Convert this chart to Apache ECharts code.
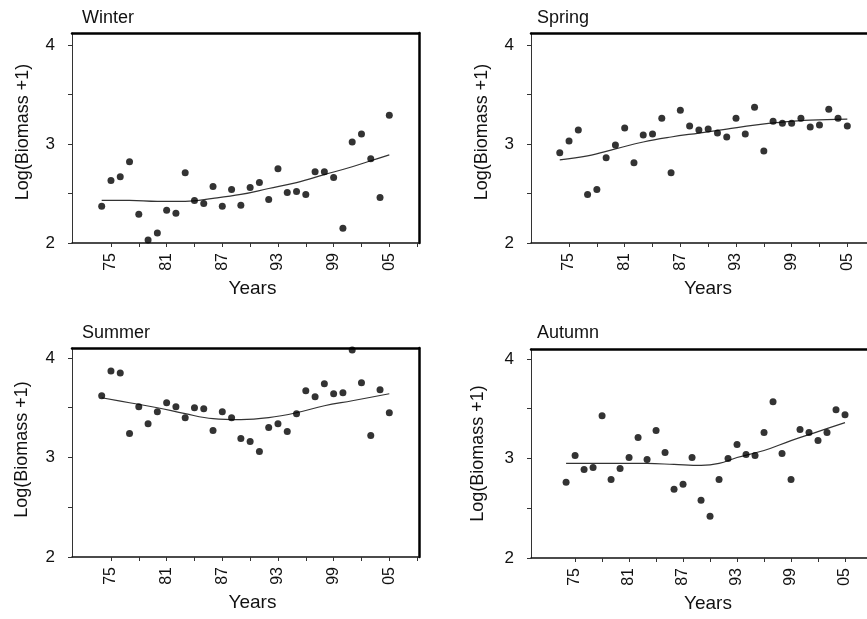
<!DOCTYPE html>
<html>
<head>
<meta charset="utf-8">
<title>Seasonal biomass</title>
<script src="https://cdn.jsdelivr.net/npm/echarts@6/dist/echarts.min.js"></script>
<style>
  html, body { margin: 0; padding: 0; background: #fff; }
  #chart { width: 867px; height: 619px; }
</style>
</head>
<body>
<div id="chart"></div>
<script>
// observed years
var years = [1974, 1975, 1976, 1977, 1978, 1979, 1980, 1981, 1982, 1983, 1984,
  1985, 1986, 1987, 1988, 1989, 1990, 1991, 1992, 1993, 1994, 1995, 1996,
  1997, 1998, 1999, 2000, 2001, 2002, 2003, 2004, 2005];

var winter = [2.37, 2.63, 2.67, 2.82, 2.29, 2.03, 2.10, 2.33, 2.30, 2.71, 2.43,
  2.40, 2.57, 2.37, 2.54, 2.38, 2.56, 2.61, 2.44, 2.75, 2.51, 2.52, 2.49,
  2.72, 2.72, 2.66, 2.15, 3.02, 3.10, 2.85, 2.46, 3.29];
var spring = [2.91, 3.03, 3.14, 2.49, 2.54, 2.86, 2.99, 3.16, 2.81, 3.09, 3.10,
  3.26, 2.71, 3.34, 3.18, 3.14, 3.15, 3.11, 3.07, 3.26, 3.10, 3.37, 2.93,
  3.23, 3.21, 3.21, 3.26, 3.17, 3.19, 3.35, 3.26, 3.18];
var summer = [3.62, 3.87, 3.85, 3.24, 3.51, 3.34, 3.46, 3.55, 3.51, 3.40, 3.50,
  3.49, 3.27, 3.46, 3.40, 3.19, 3.16, 3.06, 3.30, 3.34, 3.26, 3.44, 3.67,
  3.61, 3.74, 3.64, 3.65, 4.08, 3.75, 3.22, 3.68, 3.45];
var autumn = [2.76, 3.03, 2.89, 2.91, 3.43, 2.79, 2.90, 3.01, 3.21, 2.99, 3.28,
  3.06, 2.69, 2.74, 3.01, 2.58, 2.42, 2.79, 3.00, 3.14, 3.04, 3.03, 3.26,
  3.57, 3.05, 2.79, 3.29, 3.26, 3.18, 3.26, 3.49, 3.44];

// smoothed trend lines
var winterFitYears = [1974, 1977, 1980, 1983, 1986, 1989, 1992, 1995, 1998, 2001, 2003, 2005];
var winterFit = [2.43, 2.43, 2.42, 2.42, 2.45, 2.49, 2.55, 2.61, 2.69, 2.77, 2.83, 2.89];
var springFitYears = [1974, 1977, 1980, 1983, 1986, 1989, 1992, 1995, 1998, 2001, 2005];
var springFit = [2.84, 2.88, 2.95, 3.02, 3.07, 3.11, 3.15, 3.19, 3.22, 3.24, 3.25];
var summerFitYears = [1974, 1977, 1980, 1983, 1986, 1989, 1992, 1995, 1998, 2001, 2005];
var summerFit = [3.60, 3.55, 3.50, 3.44, 3.39, 3.38, 3.40, 3.45, 3.52, 3.57, 3.64];
var autumnFitYears = [1974, 1977, 1980, 1983, 1986, 1989, 1991, 1993, 1996, 1999, 2002, 2005];
var autumnFit = [2.95, 2.95, 2.95, 2.95, 2.94, 2.93, 2.95, 3.01, 3.08, 3.18, 3.27, 3.36];

var xLabelYears = [1975, 1981, 1987, 1993, 1999, 2005];
var xTickYears = [1975, 1978, 1981, 1984, 1987, 1990, 1993, 1996, 1999, 2002, 2005, 2008];
var yLabels = [2, 3, 4];
var yTicks = [2, 2.5, 3, 3.5, 4];

var font = 'Liberation Sans, Arial, sans-serif';

var panels = [
  { title: 'Winter', pts: winter, fitX: winterFitYears, fitY: winterFit,
    left: 72, top: 33, width: 347, height: 210, xMin: 1970.8, xMax: 2008.2, yMax: 4.12,
    titleLeft: 82, titleTop: 9, yGap: 40, yShift: 12, xShift: 14 },
  { title: 'Spring', pts: spring, fitX: springFitYears, fitY: springFit,
    left: 531, top: 33, width: 346, height: 210, xMin: 1970.9, xMax: 2008.2, yMax: 4.12,
    titleLeft: 537, titleTop: 9, yGap: 40, yShift: 12, xShift: 8 },
  { title: 'Summer', pts: summer, fitX: summerFitYears, fitY: summerFit,
    left: 72, top: 348, width: 347, height: 209, xMin: 1970.8, xMax: 2008.2, yMax: 4.10,
    titleLeft: 82, titleTop: 324, yGap: 41, yShift: 6, xShift: 14 },
  { title: 'Autumn', pts: autumn, fitX: autumnFitYears, fitY: autumnFit,
    left: 531, top: 349, width: 341, height: 209, xMin: 1970.1, xMax: 2008, yMax: 4.10,
    titleLeft: 537, titleTop: 324, yGap: 44, yShift: 0, xShift: 13 }
];

var option = {
  animation: false,
  backgroundColor: '#fff',
  title: [],
  grid: [],
  xAxis: [],
  yAxis: [],
  series: []
};

panels.forEach(function (p, i) {
  option.title.push({
    text: p.title, left: p.titleLeft, top: p.titleTop, padding: 0,
    textStyle: { fontFamily: font, fontSize: 18, fontWeight: 'normal', color: '#111' }
  });
  option.grid.push({
    left: p.left, top: p.top, width: p.width, height: p.height,
    containLabel: false, outerBoundsMode: 'none'
  });
  // bottom axis
  option.xAxis.push({
    type: 'value', gridIndex: i, min: p.xMin, max: p.xMax,
    name: 'Years', nameLocation: 'middle', nameGap: 36,
    nameTextStyle: { fontFamily: font, fontSize: 19, color: '#111', padding: [0, 0, 0, p.xShift] },
    axisLine: { show: true, onZero: false, lineStyle: { color: '#111', width: 1.5 } },
    axisTick: { show: true, length: 4, customValues: xTickYears, lineStyle: { color: '#333' } },
    axisLabel: {
      customValues: xLabelYears, rotate: 90, margin: 10,
      fontFamily: font, fontSize: 16, color: '#111',
      formatter: function (v) { return String(v).slice(2); }
    },
    splitLine: { show: false }
  });
  // top frame line
  option.xAxis.push({
    type: 'value', gridIndex: i, position: 'top', min: p.xMin, max: p.xMax,
    axisLine: { show: true, onZero: false, lineStyle: { color: '#000', width: 2.5 } },
    axisTick: { show: false }, axisLabel: { show: false }, splitLine: { show: false }
  });
  // left axis
  option.yAxis.push({
    type: 'value', gridIndex: i, min: 2, max: p.yMax,
    name: 'Log(Biomass +1)', nameLocation: 'middle', nameGap: p.yGap,
    nameTextStyle: { fontFamily: font, fontSize: 18, color: '#111', padding: [0, 0, 0, p.yShift] },
    axisLine: { show: true, onZero: false, lineStyle: { color: '#333', width: 1 } },
    axisTick: { show: true, length: 4, customValues: yTicks, lineStyle: { color: '#333' } },
    axisLabel: {
      customValues: yLabels, margin: 17, padding: [0, 0, 8, 0],
      fontFamily: font, fontSize: 17, color: '#111'
    },
    splitLine: { show: false }
  });
  // right frame line
  option.yAxis.push({
    type: 'value', gridIndex: i, position: 'right', min: 2, max: p.yMax,
    axisLine: { show: true, onZero: false, lineStyle: { color: '#000', width: 2.5 } },
    axisTick: { show: false }, axisLabel: { show: false }, splitLine: { show: false }
  });

  option.series.push({
    type: 'line', xAxisIndex: i * 2, yAxisIndex: i * 2,
    data: p.fitX.map(function (x, k) { return [x, p.fitY[k]]; }),
    smooth: 0.4, showSymbol: false,
    lineStyle: { color: '#333', width: 1.2 }, z: 2
  });
  option.series.push({
    type: 'scatter', xAxisIndex: i * 2, yAxisIndex: i * 2,
    data: years.map(function (y, k) { return [y, p.pts[k]]; }),
    symbolSize: 7, itemStyle: { color: '#000' }, z: 3
  });
});

var myChart = echarts.init(document.getElementById('chart'));
myChart.setOption(option);
</script>
</body>
</html>
